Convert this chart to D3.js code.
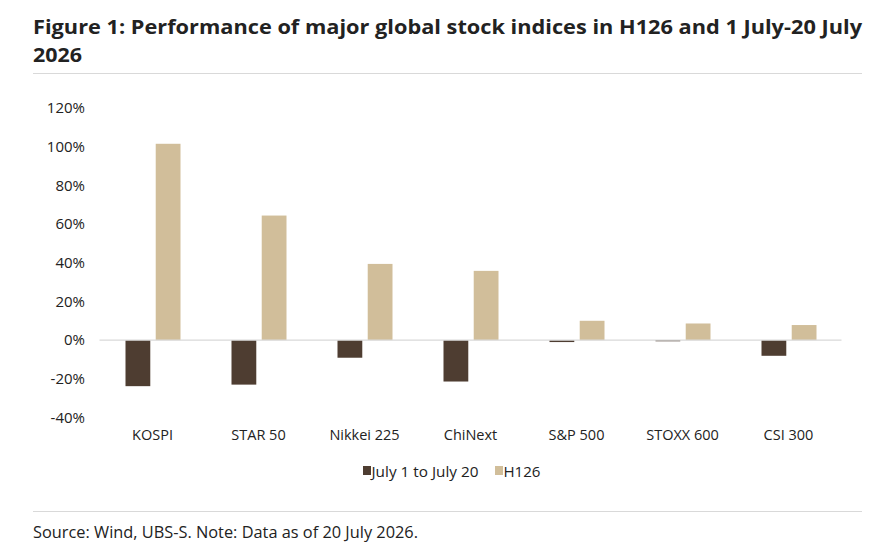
<html>
<head>
<script src="https://cdnjs.cloudflare.com/ajax/libs/d3/7.8.5/d3.min.js"></script>
<style>
  body { margin: 0; background: #fff; }
  text { font-family: "Open Sans", sans-serif; fill: #222; }
</style>
</head>
<body>
<svg id="chart" width="883" height="554"></svg>
<script>
// indices shown on the x axis
var categories = ["KOSPI", "STAR 50", "Nikkei 225", "ChiNext", "S&P 500", "STOXX 600", "CSI 300"]
var seriesNames = ["July 1 to July 20", "H126"]
// percent returns
var julyValues = [-23.8, -23.0, -9.1, -21.4, -1.0, -0.6, -8.1]
var h1Values = [101.5, 64.4, 39.4, 35.8, 10.0, 8.6, 7.8]
var yTicks = [-40, -20, 0, 20, 40, 60, 80, 100, 120]
var colors = ["#4e3d31", "#d1be9a"]

var svg = d3.select("#chart")

// title + rules
var title = ["Figure 1: Performance of major global stock indices in H126 and 1 July-20 July", "2026"]
svg.append("text").attr("x", 33).attr("y", 34)
  .attr("font-size", 20).attr("font-weight", 700).attr("fill", "#000")
  .attr("textLength", 829).attr("lengthAdjust", "spacingAndGlyphs")
  .text(title[0])
svg.append("text").attr("x", 33).attr("y", 62)
  .attr("font-size", 20).attr("font-weight", 700).attr("fill", "#000")
  .attr("textLength", 49).attr("lengthAdjust", "spacingAndGlyphs")
  .text(title[1])
svg.append("line").attr("x1", 33).attr("x2", 862).attr("y1", 73.5).attr("y2", 73.5)
  .attr("stroke", "#d9d9d9")
svg.append("line").attr("x1", 33).attr("x2", 862).attr("y1", 511.5).attr("y2", 511.5)
  .attr("stroke", "#d9d9d9")
svg.append("text").attr("x", 33).attr("y", 538).attr("font-size", 15.5)
  .attr("textLength", 385).attr("lengthAdjust", "spacingAndGlyphs")
  .text("Source: Wind, UBS-S. Note: Data as of 20 July 2026.")

// scales
var x = d3.scaleBand().domain(categories).range([99.5, 841.5])
var x1 = d3.scaleBand().domain(seriesNames).range([26, 81]).paddingInner(0.18)
var y = d3.scaleLinear().domain([-40, 120]).range([417.5, 108])

// y axis labels only
var yAxis = d3.axisLeft(y).tickValues(yTicks).tickSize(0).tickPadding(0)
  .tickFormat(function (d) { return d + "%" })
var ya = svg.append("g").attr("transform", "translate(85,0)").call(yAxis)
ya.select(".domain").remove()
ya.selectAll("text").attr("font-size", 15).attr("font-family", "Open Sans, sans-serif").attr("fill", "#222")

// bars
var data = [julyValues, h1Values]
data.forEach(function (vals, s) {
  svg.append("g").selectAll("rect")
    .data(vals)
    .enter()
    .append("rect")
    .attr("x", function (d, i) { return x(categories[i]) + x1(seriesNames[s]) })
    .attr("width", x1.bandwidth())
    .attr("y", function (d) { return d >= 0 ? y(d) : y(0) })
    .attr("height", function (d) { return Math.abs(y(d) - y(0)) })
    .attr("fill", colors[s])
})

// zero line
svg.append("line").attr("x1", 99.5).attr("x2", 841.5).attr("y1", y(0)).attr("y2", y(0))
  .attr("stroke", "#d9d9d9").attr("stroke-width", 1.2)

// category labels
var xAxis = d3.axisBottom(x).tickSize(0).tickPadding(0)
var xa = svg.append("g").attr("transform", "translate(0,430)").call(xAxis)
xa.select(".domain").remove()
xa.selectAll("text").attr("font-size", 14.5).attr("font-family", "Open Sans, sans-serif").attr("fill", "#222")

// legend
var legendX = [363, 495]
var legendW = [107, 37]
seriesNames.forEach(function (name, i) {
  svg.append("rect").attr("x", legendX[i]).attr("y", 466).attr("width", 8).attr("height", 9)
    .attr("fill", colors[i])
  svg.append("text").attr("x", legendX[i] + 8.5).attr("y", 476.5).attr("font-size", 14.5)
    .attr("textLength", legendW[i]).attr("lengthAdjust", "spacingAndGlyphs")
    .text(name)
})
</script>
</body>
</html>
